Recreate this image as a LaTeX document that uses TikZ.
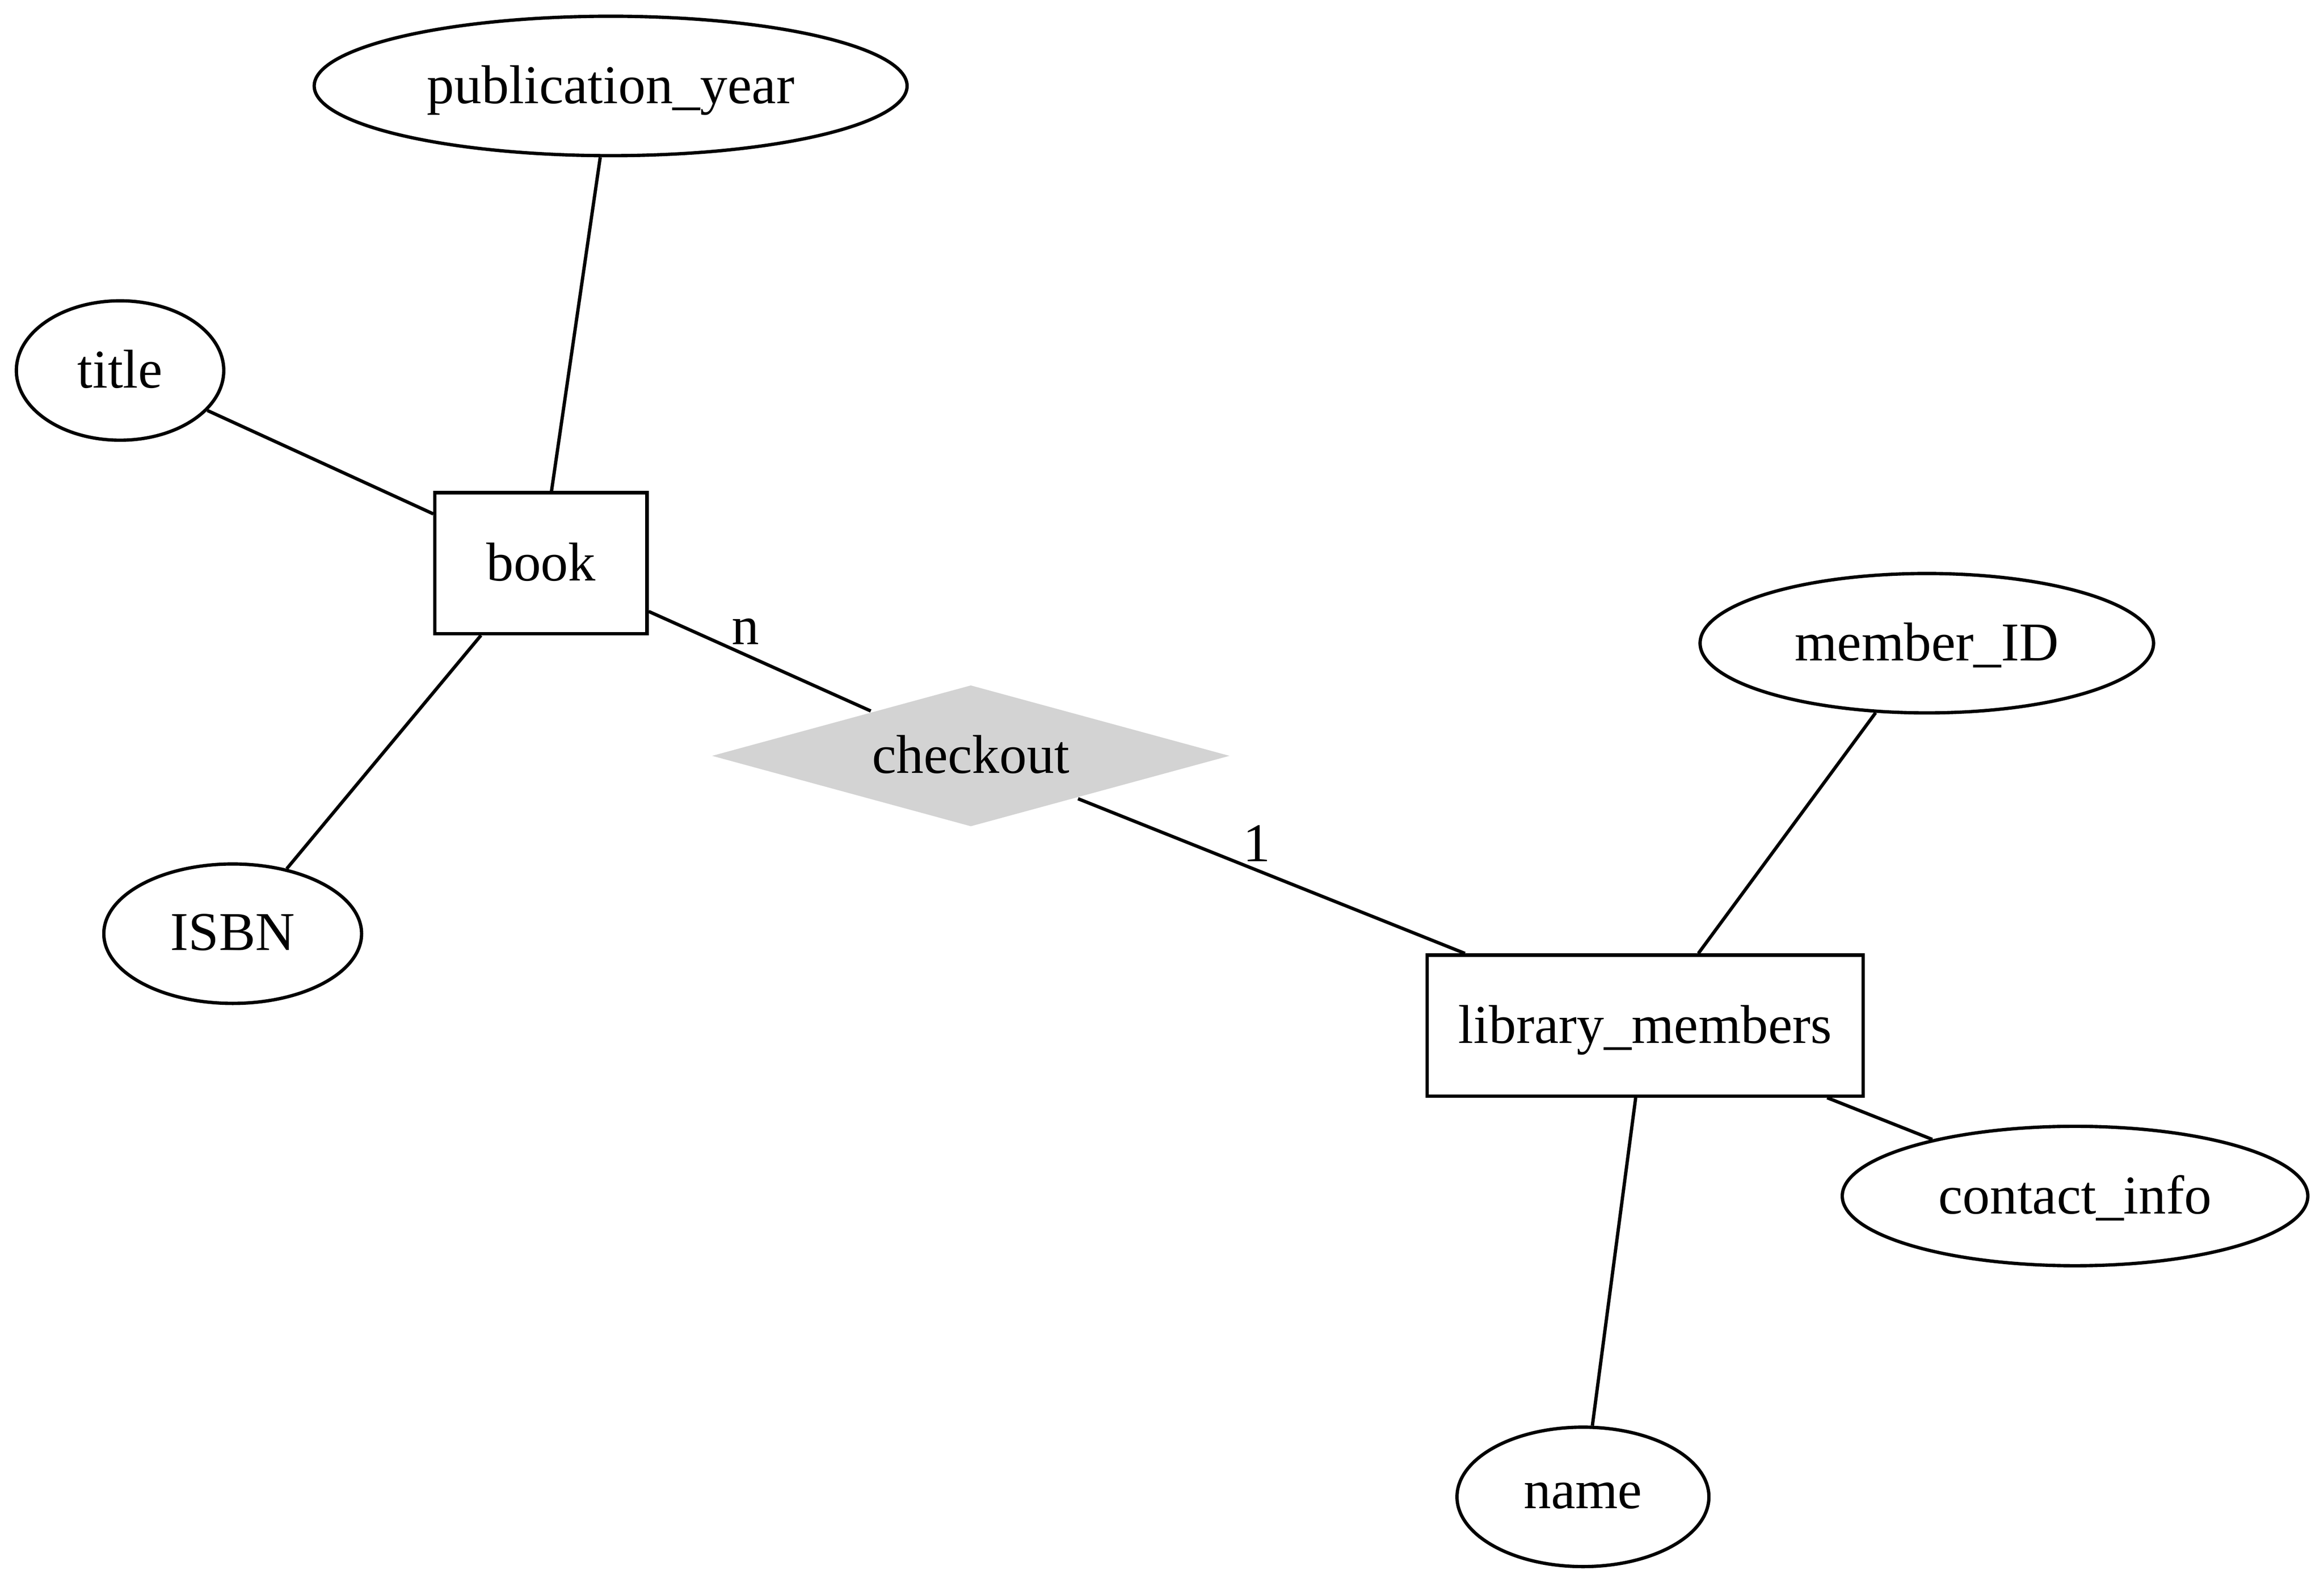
\documentclass[tikz,border=0pt]{standalone}
\usepackage{fontspec}
\setmainfont{Liberation Serif}
\usetikzlibrary{shapes.geometric}
\tikzset{
  base/.style={font=\fontsize{14}{16}\selectfont, inner sep=0pt, line width=0.85pt, text depth=0.8pt},
  attr/.style={base, draw, ellipse, minimum height=35.7pt},
  entity/.style={base, draw, rectangle, minimum height=36.1pt},
  rel/.style={base, diamond, fill={rgb,255:red,211;green,211;blue,211}, minimum width=132.8pt, minimum height=36.4pt, aspect=3.65},
  conn/.style={line width=0.85pt},
  lbl/.style={font=\fontsize{14}{16}\selectfont, inner sep=0pt}
}
\begin{document}
\begin{tikzpicture}[x=0.3795pt, y=-0.3795pt]
\useasboundingbox (0,0) rectangle (1568,1068);
\node[attr, minimum width=151.8pt] (pub) at (412,58) {publication\_year};
\node[attr, minimum width=53.1pt] (title) at (81,250) {title};
\node[entity, minimum width=54.3pt] (book) at (365,380) {book};
\node[attr, minimum width=66.0pt] (isbn) at (157,630) {ISBN};
\node[rel] (checkout) at (655,510) {checkout};
\node[attr, minimum width=116.1pt] (mid) at (1300,434) {member\_ID};
\node[entity, minimum width=111.6pt] (lm) at (1110,692) {library\_members};
\node[attr, minimum width=119.2pt] (ci) at (1400,807) {contact\_info};
\node[attr, minimum width=64.5pt] (name) at (1068,1010) {name};
\draw[conn] (book) -- (pub);
\draw[conn] (title) -- (book);
\draw[conn] (book) -- (isbn);
\draw[conn] (book) -- (checkout);
\draw[conn] (checkout) -- (lm);
\draw[conn] (lm) -- (mid);
\draw[conn] (lm) -- (ci);
\draw[conn] (lm) -- (name);
\node[lbl] (ln) at (503,426) {n};
\node[lbl] (l1) at (848,569) {1};
\end{tikzpicture}
\end{document}
